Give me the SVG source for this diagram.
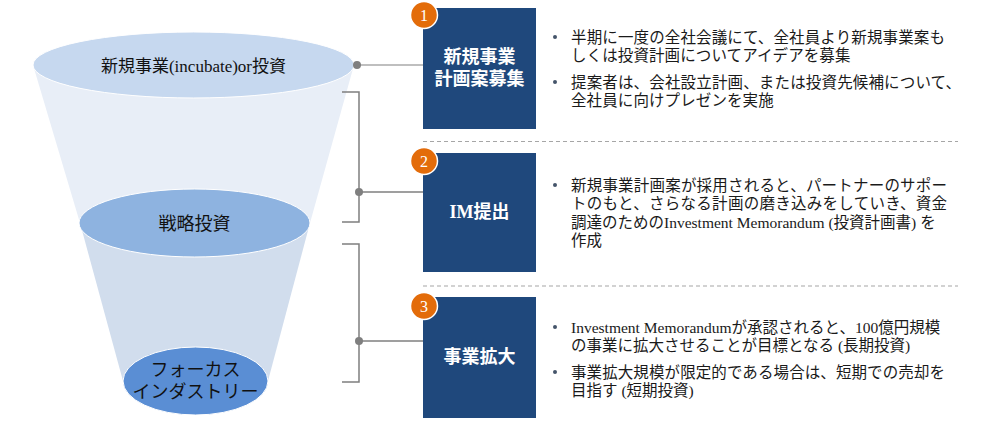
<svg xmlns="http://www.w3.org/2000/svg" width="992" height="437" viewBox="0 0 992 437">
<style>
.lbl{font-family:"Liberation Serif","Noto Sans CJK JP",serif;fill:#111;text-anchor:middle}
.box{fill:#1F487C}
.bt{font-family:"Liberation Serif","Noto Sans CJK JP",serif;font-weight:bold;font-size:18px;fill:#fff;text-anchor:middle}
.num{fill:#E36C0A;stroke:#fff;stroke-width:1.5}
.nt{font-family:"Liberation Serif","Noto Sans CJK JP",serif;font-size:16px;fill:#fff;text-anchor:middle}
.tx{font-family:"Liberation Serif","Noto Sans CJK JP",sans-serif;font-size:15.5px;fill:#1a1a1a}
.bul{fill:#44546A}
.con{stroke:#7F7F7F;stroke-width:1.5;fill:none}
.dot{fill:#7F7F7F}
.dash{stroke:#A6A6A6;stroke-width:1.2;stroke-dasharray:4 3;fill:none}
</style>
<g id="funnel">
<polygon points="33,65 354,65 310,223 80,223" fill="#E8EEF7"/>
<polygon points="80,223 310,223 268,381 123,381" fill="#D1DDED"/>
</g>
<g id="level1">
<ellipse cx="193.5" cy="65" rx="160.5" ry="33" fill="#C6D8EF" stroke="#fff" stroke-width="1"/>
<text class="lbl" x="193.5" y="72" font-size="17">新規事業(incubate)or投資</text>
</g>
<g id="level2">
<ellipse cx="194.5" cy="223" rx="115.5" ry="34" fill="#8EB3E0" stroke="#fff" stroke-width="1"/>
<text class="lbl" x="194.5" y="230" font-size="18">戦略投資</text>
</g>
<g id="level3">
<ellipse cx="195.5" cy="381" rx="72.5" ry="34" fill="#5A8ED4" stroke="#fff" stroke-width="1"/>
<text class="lbl" x="195.5" y="376" font-size="18">フォーカス</text>
<text class="lbl" x="195.5" y="398" font-size="18">インダストリー</text>
</g>
<g id="connectors">
<line x1="357" y1="65" x2="423" y2="65" stroke="#BFBFBF" stroke-width="2"/>
<circle class="dot" cx="357" cy="65" r="4"/>
<polyline class="con" points="342,92 359,92 359,222 342,222"/>
<line class="con" x1="359" y1="192" x2="423" y2="192"/>
<circle class="dot" cx="359" cy="192" r="4"/>
<polyline class="con" points="342,244 359,244 359,382 342,382"/>
<line class="con" x1="359" y1="341" x2="423" y2="341"/>
<circle class="dot" cx="359" cy="341" r="4"/>
<line class="dash" x1="423" y1="141.5" x2="958" y2="141.5"/>
<line class="dash" x1="423" y1="286" x2="958" y2="286"/>
</g>
<g id="step1">
<rect class="box" x="423" y="8" width="113" height="121"/>
<text class="bt" x="479.5" y="63">新規事業</text>
<text class="bt" x="479.5" y="85">計画案募集</text>
<circle class="num" cx="424" cy="15" r="13.5"/>
<text class="nt" x="424" y="21">1</text>
<circle class="bul" cx="555" cy="37" r="2"/>
<text class="tx" x="571" y="42.5" textLength="374" lengthAdjust="spacing">半期に一度の全社会議にて、全社員より新規事業案も</text>
<text class="tx" x="571" y="61" letter-spacing="0.1">しくは投資計画についてアイデアを募集</text>
<circle class="bul" cx="555" cy="82" r="2"/>
<text class="tx" x="571" y="87.5" textLength="390" lengthAdjust="spacing">提案者は、会社設立計画、または投資先候補について、</text>
<text class="tx" x="571" y="106" letter-spacing="0.1">全社員に向けプレゼンを実施</text>
</g>
<g id="step2">
<rect class="box" x="423" y="153" width="113" height="119"/>
<text class="bt" x="479.5" y="218">IM提出</text>
<circle class="num" cx="424" cy="161" r="13.5"/>
<text class="nt" x="424" y="167">2</text>
<circle class="bul" cx="555" cy="185" r="2"/>
<text class="tx" x="571" y="190.5" textLength="376" lengthAdjust="spacing">新規事業計画案が採用されると、パートナーのサポー</text>
<text class="tx" x="571" y="209" textLength="376" lengthAdjust="spacing">トのもと、さらなる計画の磨き込みをしていき、資金</text>
<text class="tx" x="571" y="227.5">調達のためのInvestment Memorandum (投資計画書) を</text>
<text class="tx" x="571" y="246">作成</text>
</g>
<g id="step3">
<rect class="box" x="423" y="297" width="113" height="121"/>
<text class="bt" x="479.5" y="363">事業拡大</text>
<circle class="num" cx="424" cy="306" r="13.5"/>
<text class="nt" x="424" y="312">3</text>
<circle class="bul" cx="555" cy="327" r="2"/>
<text class="tx" x="571" y="332.5">Investment Memorandumが承認されると、100億円規模</text>
<text class="tx" x="571" y="351">の事業に拡大させることが目標となる (長期投資)</text>
<circle class="bul" cx="555" cy="372" r="2"/>
<text class="tx" x="571" y="377.5" textLength="374" lengthAdjust="spacing">事業拡大規模が限定的である場合は、短期での売却を</text>
<text class="tx" x="571" y="396">目指す (短期投資)</text>
</g>
</svg>
